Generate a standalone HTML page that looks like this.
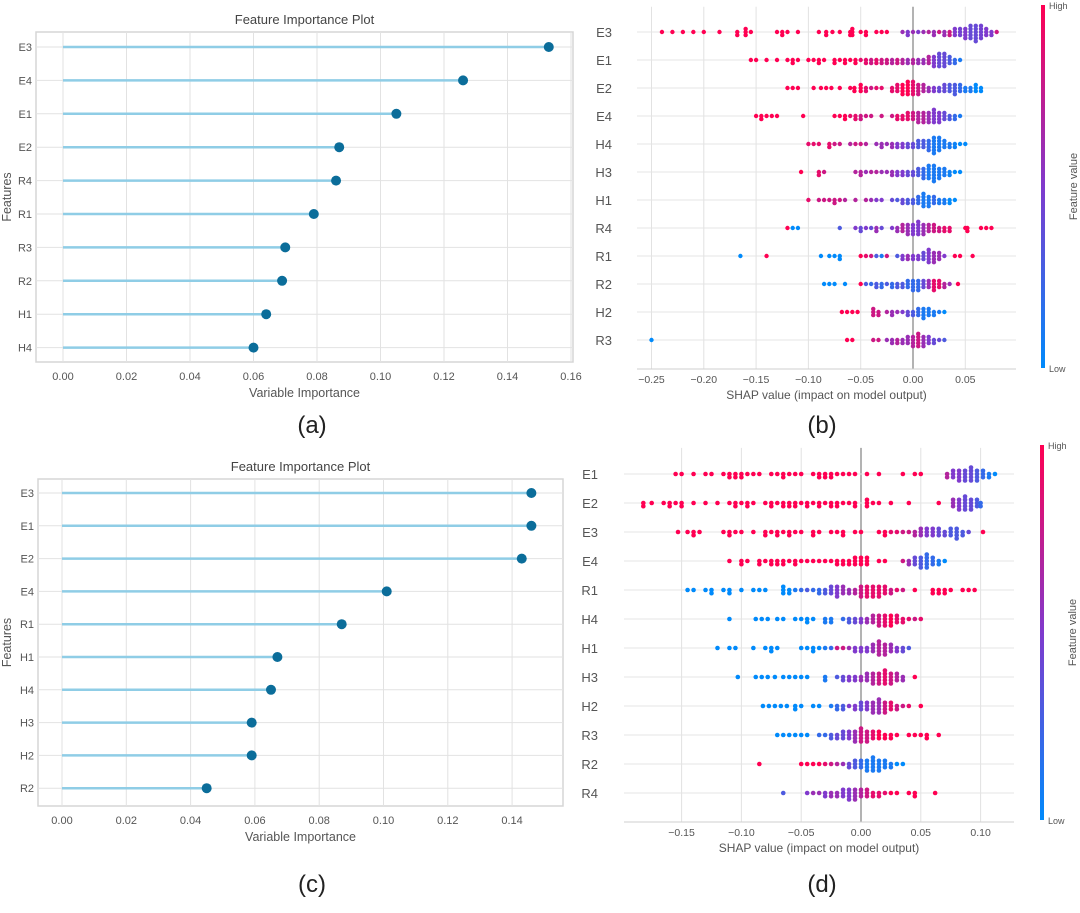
<!DOCTYPE html>
<html><head><meta charset="utf-8"><style>
html,body{margin:0;padding:0;background:#fff;}
svg{display:block;font-family:"Liberation Sans",sans-serif;}
</style></head><body>
<svg id="root" width="1080" height="913" viewBox="0 0 1080 913" xmlns="http://www.w3.org/2000/svg">
<rect width="1080" height="913" fill="#fff"/>
</svg>
<script>
// ---------- Panel (a) data ----------
const aFeatures = ["E3","E4","E1","E2","R4","R1","R3","R2","H1","H4"];
const aValues = [0.153,0.126,0.105,0.087,0.086,0.079,0.070,0.069,0.064,0.060];
const aTicks = ["0.00","0.02","0.04","0.06","0.08","0.10","0.12","0.14","0.16"];
// ---------- Panel (c) data ----------
const cFeatures = ["E3","E1","E2","E4","R1","H1","H4","H3","H2","R2"];
const cValues = [0.146,0.146,0.143,0.101,0.087,0.067,0.065,0.059,0.059,0.045];
const cTicks = ["0.00","0.02","0.04","0.06","0.08","0.10","0.12","0.14"];
// ---------- Panel (b) data: [shap, featureValue(0..1), count] ----------
const bFeatures = ["E3","E1","E2","E4","H4","H3","H1","R4","R1","R2","H2","R3"];
const bTicks = ["-0.25","-0.20","-0.15","-0.10","-0.05","0.00","0.05"];
const bE3 = [[-.24,1,1],[-.23,1,1],[-.22,1,1],[-.21,1,1],[-.20,1,1],[-.185,1,1],[-.168,1,2],[-.16,1,3],[-.155,1,1],[-.13,1,1],[-.125,1,2],[-.12,1,1],[-.11,1,1],[-.09,1,1],[-.083,1,2],[-.077,1,1],[-.07,1,1],[-.06,1,2],[-.058,1,3],[-.05,1,1],[-.045,1,2],[-.035,1,1],[-.03,1,1],[-.025,1,1],[-.01,.6,1],[-.005,.5,2],[0,.6,1],[.005,.5,1],[.01,.6,1],[.015,.7,1],[.02,.6,2],[.025,.8,1],[.03,.6,2],[.035,.8,2],[.04,.5,3],[.045,.45,3],[.05,.5,4],[.055,.4,5],[.06,.4,6],[.065,.45,5],[.07,.5,3],[.075,.5,2],[.08,.8,1]];
const bE1 = [[-.155,1,1],[-.15,1,1],[-.14,1,1],[-.13,1,1],[-.12,1,1],[-.115,1,2],[-.11,1,1],[-.1,1,1],[-.095,1,1],[-.09,1,2],[-.085,1,1],[-.075,1,2],[-.07,1,1],[-.065,1,2],[-.06,1,1],[-.055,1,2],[-.05,.9,1],[-.045,.9,2],[-.04,.8,2],[-.035,.9,2],[-.03,.8,2],[-.025,.8,2],[-.02,.7,2],[-.015,.8,2],[-.01,.7,2],[-.005,.6,2],[0,.7,2],[.005,.6,2],[.01,.6,2],[.015,.7,3],[.02,.5,4],[.025,.4,5],[.03,.4,5],[.035,.3,3],[.04,.2,2],[.045,.1,1]];
const bE2 = [[-.12,1,1],[-.115,1,1],[-.11,1,1],[-.095,1,1],[-.088,1,1],[-.083,1,1],[-.078,1,1],[-.07,1,1],[-.06,1,1],[-.056,1,2],[-.05,1,3],[-.045,.9,2],[-.04,.8,1],[-.035,.9,1],[-.03,.9,1],[-.02,.9,2],[-.015,.9,3],[-.01,1,4],[-.005,1,5],[0,.9,5],[.005,.8,4],[.01,.7,3],[.015,.6,2],[.02,.5,2],[.025,.4,2],[.03,.4,3],[.035,.3,3],[.04,.3,4],[.045,.2,3],[.05,.1,2],[.055,.1,2],[.06,0,3],[.065,0,2]];
const bE4 = [[-.15,1,1],[-.145,1,2],[-.14,1,1],[-.135,1,1],[-.13,1,1],[-.105,1,1],[-.075,1,1],[-.07,1,1],[-.065,1,2],[-.06,.9,1],[-.055,.9,2],[-.05,.8,2],[-.045,.8,1],[-.04,.8,1],[-.03,.8,1],[-.02,.8,1],[-.015,.9,2],[-.01,.9,2],[-.005,.9,3],[0,.8,3],[.005,.7,4],[.01,.7,4],[.015,.6,4],[.02,.5,5],[.025,.5,4],[.03,.4,3],[.035,.3,2],[.04,.2,2],[.045,.1,1]];
const bH4 = [[-.1,.9,1],[-.095,.9,1],[-.09,.9,1],[-.08,.9,2],[-.075,.8,1],[-.07,.8,1],[-.06,.7,1],[-.055,.8,1],[-.05,.8,1],[-.045,.7,1],[-.035,.6,1],[-.03,.6,2],[-.025,.6,1],[-.02,.6,2],[-.015,.5,2],[-.01,.5,2],[-.005,.4,2],[0,.4,2],[.005,.3,3],[.01,.3,3],[.015,.2,4],[.02,.1,6],[.025,.1,5],[.03,.1,3],[.035,.1,2],[.04,.05,2],[.045,0,1],[.05,0,1]];
const bH3 = [[-.107,1,1],[-.09,.9,2],[-.085,.8,1],[-.055,.7,1],[-.05,.7,2],[-.045,.6,1],[-.04,.7,1],[-.035,.7,1],[-.03,.6,1],[-.025,.6,1],[-.02,.6,2],[-.015,.5,2],[-.01,.5,2],[-.005,.4,2],[0,.4,2],[.005,.3,3],[.01,.2,4],[.015,.1,5],[.02,.1,6],[.025,.1,4],[.03,.1,3],[.035,.05,2],[.04,0,1],[.045,0,1]];
const bH1 = [[-.1,.9,1],[-.09,.8,1],[-.085,.8,1],[-.08,.8,1],[-.075,.8,2],[-.07,.8,1],[-.065,.7,1],[-.055,.7,1],[-.045,.7,1],[-.04,.6,1],[-.035,.5,1],[-.03,.5,1],[-.02,.4,1],[-.015,.3,1],[-.01,.4,2],[-.005,.3,2],[0,.3,2],[.005,.2,3],[.01,.1,5],[.015,.1,4],[.02,.2,3],[.025,.1,2],[.03,.1,2],[.035,0,2],[.04,0,1]];
const bR4 = [[-.12,1,1],[-.115,0,1],[-.11,0,1],[-.07,.3,1],[-.055,.5,1],[-.05,.4,2],[-.045,.5,1],[-.04,.4,1],[-.035,.6,2],[-.03,.4,1],[-.02,.5,1],[-.015,.6,2],[-.01,.7,3],[-.005,.6,4],[0,.5,4],[.005,.5,5],[.01,.6,4],[.015,.7,3],[.02,.8,3],[.025,.8,2],[.03,.9,2],[.035,.9,2],[.05,1,1],[.052,1,2],[.065,1,1],[.07,1,1],[.075,1,1]];
const bR1 = [[-.165,0,1],[-.14,1,1],[-.088,0,1],[-.08,0,1],[-.075,0,1],[-.07,0,2],[-.05,1,1],[-.045,.9,1],[-.04,.8,1],[-.035,.3,1],[-.03,.1,1],[-.025,.8,1],[-.015,.3,1],[-.01,.5,2],[-.005,.6,2],[0,.5,2],[.005,.5,2],[.01,.4,3],[.015,.5,5],[.02,.6,4],[.025,.6,3],[.03,.5,1],[.04,1,1],[.045,1,1],[.057,1,1]];
const bR2 = [[-.085,0,1],[-.08,0,1],[-.075,0,1],[-.065,0,1],[-.05,1,1],[-.045,.3,1],[-.04,.2,1],[-.035,.3,2],[-.03,.2,2],[-.025,.3,1],[-.02,.2,2],[-.015,.3,2],[-.01,.3,2],[-.005,.2,3],[0,.2,4],[.005,.2,4],[.01,.4,3],[.015,.6,3],[.02,.9,4],[.025,.9,3],[.03,.7,2],[.035,.6,1],[.043,1,1]];
const bH2 = [[-.068,1,1],[-.063,1,1],[-.058,1,1],[-.053,1,1],[-.038,.8,3],[-.033,.8,2],[-.025,.7,1],[-.02,.6,2],[-.015,.6,1],[-.01,.5,1],[-.005,.4,2],[0,.3,2],[.005,.2,3],[.01,.1,4],[.015,.1,3],[.02,.1,2],[.025,.1,1],[.03,0,1]];
const bR3 = [[-.25,0,1],[-.063,1,1],[-.058,1,1],[-.038,.8,1],[-.033,.8,1],[-.025,.6,1],[-.02,.6,2],[-.015,.7,2],[-.01,.6,2],[-.005,.6,3],[0,.7,4],[.005,.8,5],[.01,.6,4],[.015,.5,3],[.02,.4,2],[.025,.4,1],[.03,.3,1]];
const bRows = [bE3,bE1,bE2,bE4,bH4,bH3,bH1,bR4,bR1,bR2,bH2,bR3];
// ---------- Panel (d) data ----------
const dFeatures = ["E1","E2","E3","E4","R1","H4","H1","H3","H2","R3","R2","R4"];
const dTicks = ["-0.15","-0.10","-0.05","0.00","0.05","0.10"];
const dE1 = [[-.155,1,1],[-.15,1,1],[-.14,1,1],[-.13,1,1],[-.125,1,1],[-.115,1,1],[-.11,1,2],[-.105,1,2],[-.1,1,2],[-.095,1,1],[-.09,1,1],[-.085,1,1],[-.075,1,1],[-.07,1,1],[-.065,1,2],[-.06,1,1],[-.055,1,1],[-.05,1,1],[-.04,1,1],[-.035,1,2],[-.03,1,2],[-.025,1,2],[-.02,1,1],[-.015,1,1],[-.01,1,1],[-.005,1,1],[.005,1,1],[.015,1,1],[.035,1,1],[.045,1,1],[.05,1,1],[.072,.7,2],[.077,.5,3],[.082,.5,4],[.087,.4,4],[.092,.4,5],[.097,.3,4],[.102,.2,3],[.107,.1,2],[.112,0,1]];
const dE2 = [[-.182,1,2],[-.175,1,1],[-.165,1,1],[-.16,1,2],[-.155,1,1],[-.15,1,2],[-.14,1,1],[-.13,1,1],[-.12,1,1],[-.11,1,1],[-.105,1,2],[-.1,1,1],[-.095,1,2],[-.09,1,1],[-.08,1,1],[-.075,1,2],[-.07,1,1],[-.065,1,2],[-.06,1,2],[-.055,1,2],[-.05,1,1],[-.045,1,2],[-.04,1,1],[-.035,1,2],[-.03,1,1],[-.025,1,2],[-.02,1,2],[-.015,1,1],[-.01,1,1],[-.005,1,2],[.005,1,3],[.01,1,1],[.015,1,1],[.025,1,1],[.04,1,1],[.065,1,1],[.077,.6,3],[.082,.5,4],[.087,.4,5],[.092,.4,4],[.097,.3,3],[.1,.2,2]];
const dE3 = [[-.153,1,1],[-.145,1,1],[-.14,1,2],[-.135,1,1],[-.115,1,1],[-.11,1,2],[-.105,1,1],[-.1,1,1],[-.09,1,1],[-.08,1,2],[-.075,1,1],[-.07,1,2],[-.065,1,1],[-.06,1,2],[-.055,1,1],[-.05,1,1],[-.04,1,2],[-.035,1,1],[-.025,1,1],[-.02,1,1],[-.015,1,2],[-.005,1,1],[0,1,1],[.015,1,1],[.02,1,2],[.025,.9,1],[.03,.9,1],[.035,.8,1],[.04,.8,1],[.045,.7,2],[.05,.6,3],[.055,.5,3],[.06,.5,3],[.065,.4,3],[.07,.4,2],[.075,.3,3],[.08,.3,4],[.085,.3,2],[.09,.4,1],[.102,1,1]];
const dE4 = [[-.11,1,1],[-.1,1,2],[-.095,1,1],[-.085,1,2],[-.08,1,1],[-.075,1,2],[-.07,1,2],[-.065,1,2],[-.06,1,1],[-.055,1,2],[-.05,1,1],[-.045,1,1],[-.04,1,1],[-.035,1,1],[-.03,1,1],[-.025,1,1],[-.02,1,2],[-.015,1,2],[-.01,1,2],[-.005,1,3],[0,1,3],[.005,1,3],[.015,1,1],[.02,1,1],[.035,.8,1],[.04,.6,2],[.045,.4,3],[.05,.3,4],[.055,.2,5],[.06,.2,3],[.065,.1,2],[.07,0,1]];
const dR1 = [[-.145,0,1],[-.14,0,1],[-.13,0,1],[-.125,0,2],[-.115,0,1],[-.11,0,2],[-.1,0,1],[-.09,0,1],[-.085,0,1],[-.08,0,1],[-.065,0,3],[-.06,0,2],[-.055,.1,1],[-.05,.2,1],[-.045,.3,1],[-.04,.2,1],[-.035,.2,2],[-.03,.3,2],[-.025,.4,3],[-.02,.5,4],[-.015,.6,3],[-.01,.6,2],[-.005,.7,2],[0,.8,4],[.005,.9,4],[.01,.9,4],[.015,.9,4],[.02,.9,3],[.025,.8,2],[.03,.9,1],[.035,.8,1],[.045,1,1],[.06,1,2],[.065,1,2],[.07,1,2],[.075,1,1],[.085,1,1],[.09,1,1],[.095,1,1]];
const dH4 = [[-.11,0,1],[-.088,0,1],[-.083,0,1],[-.078,0,1],[-.07,0,1],[-.065,0,1],[-.055,0,1],[-.05,0,1],[-.045,0,2],[-.04,0,1],[-.03,.1,2],[-.025,.1,2],[-.015,.2,1],[-.01,.3,2],[-.005,.4,2],[0,.5,2],[.005,.6,2],[.01,.7,3],[.015,.8,4],[.02,.9,4],[.025,1,4],[.03,.9,3],[.035,.9,2],[.04,.9,1],[.045,.8,1],[.05,.9,1]];
const dH1 = [[-.12,0,1],[-.11,0,1],[-.105,0,1],[-.09,0,1],[-.08,0,1],[-.075,0,2],[-.07,0,1],[-.05,0,1],[-.045,0,1],[-.04,0,2],[-.035,0,1],[-.03,.1,1],[-.025,.2,1],[-.02,.8,1],[-.015,.8,1],[-.01,.6,1],[-.005,.5,2],[0,.5,2],[.005,.5,2],[.01,.6,3],[.015,.7,5],[.02,.7,4],[.025,.6,3],[.03,.5,2],[.035,.4,2],[.04,.3,1]];
const dH3 = [[-.103,0,1],[-.088,0,1],[-.083,0,1],[-.078,0,1],[-.072,0,1],[-.065,0,1],[-.06,0,1],[-.055,0,1],[-.05,0,1],[-.045,0,1],[-.03,.1,2],[-.02,.3,1],[-.015,.4,2],[-.01,.5,2],[-.005,.5,2],[0,.6,2],[.005,.6,3],[.01,.7,4],[.015,.8,4],[.02,.9,5],[.025,.8,4],[.03,.7,3],[.035,.6,2],[.045,1,1]];
const dH2 = [[-.082,0,1],[-.077,0,1],[-.072,0,1],[-.067,0,1],[-.062,0,1],[-.055,0,2],[-.05,0,1],[-.04,0,1],[-.035,0,1],[-.025,.1,1],[-.02,.2,2],[-.015,.3,2],[-.01,.5,1],[-.005,.5,2],[0,.4,3],[.005,.5,3],[.01,.6,4],[.015,.6,5],[.02,.8,4],[.025,.9,3],[.03,.8,2],[.035,.8,1],[.04,.9,1],[.05,1,1]];
const dR3 = [[-.07,0,1],[-.065,0,1],[-.06,0,1],[-.055,0,1],[-.05,0,1],[-.045,0,1],[-.035,.2,1],[-.03,.2,1],[-.025,.3,2],[-.02,.4,2],[-.015,.4,3],[-.01,.5,3],[-.005,.6,4],[0,.8,5],[.005,.8,4],[.01,.9,3],[.015,1,3],[.02,1,2],[.025,1,2],[.03,1,1],[.04,1,1],[.045,1,1],[.05,1,1],[.055,1,2],[.065,1,1]];
const dR2 = [[-.085,1,1],[-.05,1,1],[-.045,1,1],[-.04,1,1],[-.035,1,1],[-.03,.9,1],[-.025,.8,1],[-.02,.7,1],[-.015,.6,1],[-.01,.4,2],[-.005,.3,3],[0,.2,3],[.005,.1,4],[.01,.1,5],[.015,.1,4],[.02,.1,3],[.025,.1,2],[.03,0,1],[.035,0,1]];
const dR4 = [[-.065,.3,1],[-.045,.5,1],[-.04,.6,1],[-.035,.6,1],[-.03,.5,2],[-.025,.6,2],[-.02,.6,2],[-.015,.5,3],[-.01,.5,4],[-.005,.6,4],[0,.7,3],[.005,.8,3],[.01,.9,2],[.015,.9,2],[.02,.9,1],[.025,1,1],[.03,1,1],[.04,1,1],[.045,1,2],[.062,1,1]];
const dRows = [dE1,dE2,dE3,dE4,dR1,dH4,dH1,dH3,dH2,dR3,dR2,dR4];

const NS = "http://www.w3.org/2000/svg";
const root = document.getElementById("root");
function mk(tag, attrs, parent, text) {
  const e = document.createElementNS(NS, tag);
  for (const k in attrs) e.setAttribute(k, attrs[k]);
  if (text !== undefined) e.textContent = text;
  (parent || root).appendChild(e);
  return e;
}
function shapColor(v) {
  const lo=[0,138,251], mid=[128,58,205], hi=[255,0,82];
  let a,b,t;
  if (v<0.5){a=lo;b=mid;t=v/0.5;} else {a=mid;b=hi;t=(v-0.5)/0.5;}
  return "rgb("+a.map((c,i)=>Math.round(c+(b[i]-c)*t)).join(",")+")";
}

// ---------- lollipop panel ----------
function lollipop(name, feats, vals, ticks, fx0, fy0, fx1, fy1, x0px, tickStepPx, rowY0, rowStep, label) {
  const g = mk("g", {});
  
  
  const xs = v => x0px + v / 0.02 * tickStepPx;
  const ys = i => rowY0 + i * rowStep;
  const frame = mk("rect", {x:fx0,y:fy0,width:fx1-fx0,height:fy1-fy0,fill:"none",stroke:"#d6d6d6","stroke-width":1.5}, g);
  
  
  ticks.forEach((t,i) => {
    const x = x0px + i*tickStepPx;
    const gl = mk("line",{x1:x,y1:fy0,x2:x,y2:fy1,stroke:"#e2e2e2","stroke-width":1},g);
    
    
    const tl = mk("text",{x:x,y:fy1+18,"font-size":11,fill:"#555","text-anchor":"middle"},g,t);
    
    
  });
  feats.forEach((f,i) => {
    const y = ys(i);
    const gl = mk("line",{x1:fx0,y1:y,x2:fx1,y2:y,stroke:"#e2e2e2","stroke-width":1},g);
    
    
    const yl = mk("text",{x:fx0-4,y:y+4,"font-size":11,fill:"#555","text-anchor":"end"},g,f);
    
    
    const st = mk("line",{x1:xs(0),y1:y,x2:xs(vals[i]),y2:y,stroke:"#8fcde6","stroke-width":2.5},g);
    
    
    const dt = mk("circle",{cx:xs(vals[i]),cy:y,r:5,fill:"#0b6d9a"},g);
    
    
  });
  const cx = (fx0+fx1)/2;
  const ti = mk("text",{x:cx,y:fy0-8,"font-size":13,fill:"#444","text-anchor":"middle"},g,"Feature Importance Plot");
  
  
  const xl = mk("text",{x:cx,y:fy1+35,"font-size":12.5,fill:"#555","text-anchor":"middle"},g,"Variable Importance");
  
  
  const my = (fy0+fy1)/2;
  const yt = mk("text",{x:11,y:my,"font-size":12.5,fill:"#555","text-anchor":"middle",transform:"rotate(-90 11 "+my+")"},g,"Features");
  
  
  const pl = mk("text",{x:label[1],y:label[2],"font-size":24,fill:"#222","text-anchor":"middle"},g,label[0]);
  
  
}

// ---------- SHAP beeswarm ----------
function beeswarm(name, feats, rows, ticks, zeroPx, perTickPx, tickStart, axX0, axX1, rowY0, rowStep, axisY, labelX, r, cb, label) {
  const g = mk("g", {});
  
  
  const xs = v => zeroPx + v / 0.05 * perTickPx;
  const top = rowY0 - rowStep*0.9;
  ticks.forEach((t,i) => {
    const v = parseFloat(t);
    const x = xs(v);
    const isZero = Math.abs(v) < 1e-9;
    const gl = mk("line",{x1:x,y1:top,x2:x,y2:axisY,stroke:isZero?"#9a9a9a":"#e2e2e2","stroke-width":isZero?1.5:1},g);
    
    
    const tl = mk("text",{x:x,y:axisY+14,"font-size":10.5,fill:"#555","text-anchor":"middle"},g,t.replace("-","\u2212"));
    
    
  });
  const ax = mk("line",{x1:axX0,y1:axisY,x2:axX1,y2:axisY,stroke:"#cfcfcf","stroke-width":1},g);
  
  
  feats.forEach((f,i) => {
    const y = rowY0 + i*rowStep;
    const gl = mk("line",{x1:axX0,y1:y,x2:axX1,y2:y,stroke:"#e4e4e4","stroke-width":1,"stroke-dasharray":"0"},g);
    
    
    const yl = mk("text",{x:labelX,y:y+5,"font-size":13,fill:"#555","text-anchor":"end"},g,f);
    
    
    rows[i].forEach(p => {
      for (let k=0;k<p[2];k++){
        const off = (k===0)?0:((k%2===1)?1:-1)*Math.ceil(k/2)*r*1.4;
        const c = mk("circle",{cx:xs(p[0]),cy:y+off,r:r,fill:shapColor(p[1])},g);
        
        
      }
    });
  });
  const xl = mk("text",{x:(axX0+axX1)/2,y:axisY+30,"font-size":12,fill:"#555","text-anchor":"middle"},g,"SHAP value (impact on model output)");
  
  
  // colorbar
  const gid = name+"-grad";
  const defs = mk("defs",{},g);
  const lg = mk("linearGradient",{id:gid,x1:0,y1:1,x2:0,y2:0},defs);
  [0,0.25,0.5,0.75,1].forEach(s => mk("stop",{offset:s,"stop-color":shapColor(s)},lg));
  const bar = mk("rect",{x:cb[0],y:cb[1],width:4,height:cb[2]-cb[1],fill:"url(#"+gid+")"},g);
  
  
  const hi = mk("text",{x:cb[0]+8,y:cb[1]+4,"font-size":9,fill:"#555"},g,"High");
  
  
  const lo = mk("text",{x:cb[0]+8,y:cb[2]+4,"font-size":9,fill:"#555"},g,"Low");
  
  
  const my = (cb[1]+cb[2])/2, fx = cb[0]+36;
  const fv = mk("text",{x:fx,y:my,"font-size":11,fill:"#555","text-anchor":"middle",transform:"rotate(-90 "+fx+" "+my+")"},g,"Feature value");
  
  
  const pl = mk("text",{x:label[1],y:label[2],"font-size":24,fill:"#222","text-anchor":"middle"},g,label[0]);
  
  
}

lollipop("panel-a-importance", aFeatures, aValues, aTicks, 36, 32, 573, 362, 63, 63.5, 47, 33.4, ["(a)",312,433]);
lollipop("panel-c-importance", cFeatures, cValues, cTicks, 38, 479, 563, 806, 62, 64.3, 493, 32.8, ["(c)",312,892]);
beeswarm("panel-b-shap", bFeatures, bRows, bTicks, 913, 52.3, 0, 637, 1016, 32, 28, 369, 612, 2.2, [1041,5,368], ["(b)",822,433]);
beeswarm("panel-d-shap", dFeatures, dRows, dTicks, 861, 59.8, 0, 624, 1014, 474, 29, 822, 598, 2.3, [1040,445,820], ["(d)",822,892]);
</script>
</body></html>
